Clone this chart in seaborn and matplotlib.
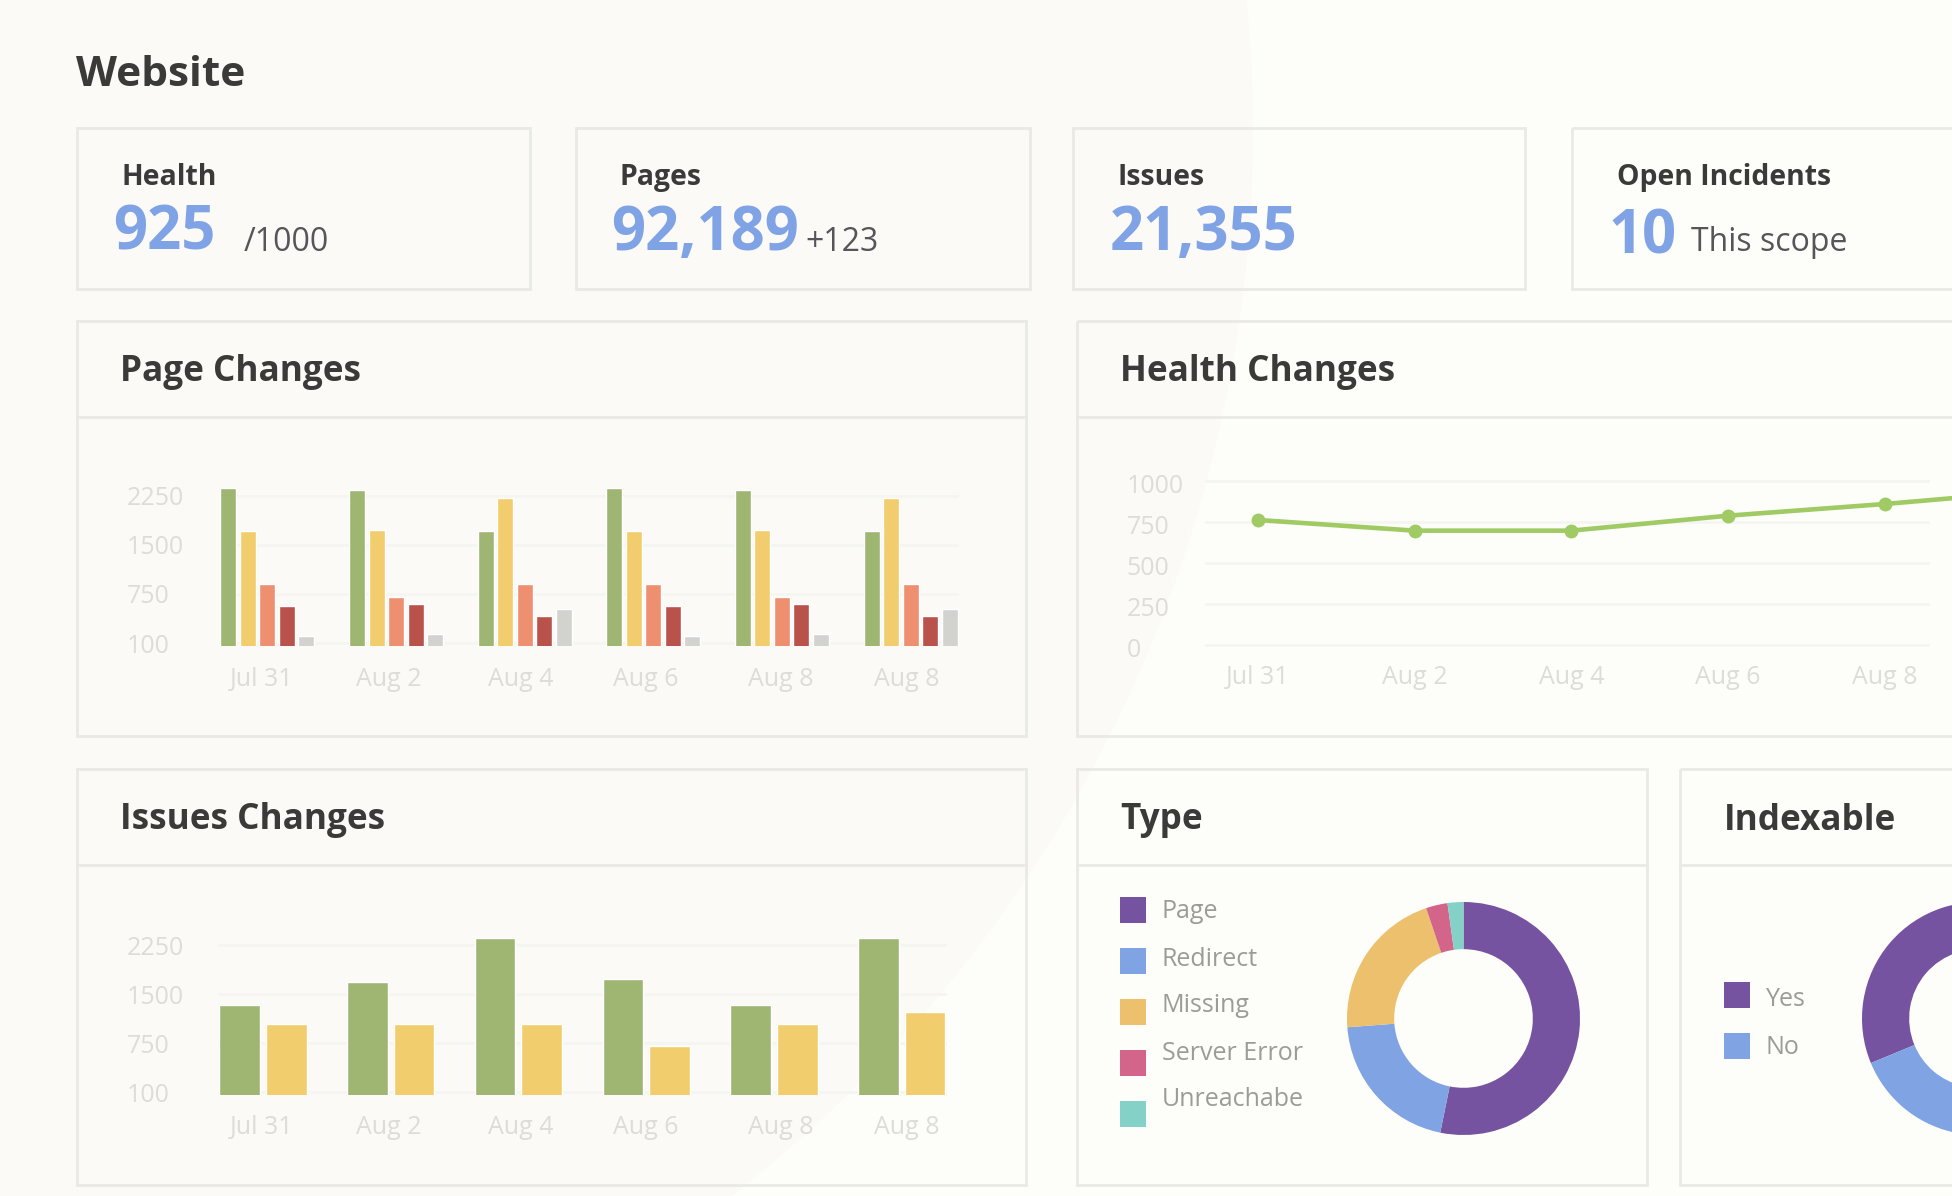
"""Website dashboard: KPI cards, bar charts, health line and two donuts."""

import matplotlib
matplotlib.use("Agg")
import matplotlib.pyplot as plt
from matplotlib.patches import Circle, Rectangle
from matplotlib.transforms import ScaledTranslation
import numpy as np
import pandas as pd
import seaborn as sns

W, H = 1952, 1196

DATES = ["Jul 31", "Aug 2", "Aug 4", "Aug 6", "Aug 8", "Aug 8"]

PAGE_GREEN = [2368, 2345, 1710, 2368, 2345, 1710]
PAGE_YELLOW = [1710, 1722, 2209, 1710, 1722, 2209]
PAGE_ORANGE = [908, 706, 908, 908, 706, 908]
PAGE_RED = [591, 614, 458, 591, 614, 458]
PAGE_GREY = [193, 215, 547, 193, 215, 547]

ISSUES_GREEN = [1336, 1688, 2358, 1739, 1336, 2358]
ISSUES_YELLOW = [1050, 1050, 1050, 718, 1050, 1225]

HEALTH = [761, 696, 696, 787, 858, 940]

TYPE_LABELS = ["Page", "Redirect", "Missing", "Server Error", "Unreachabe"]
TYPE_VALUES = [53.2, 20.6, 21.0, 3.0, 2.2]
INDEX_LABELS = ["Yes", "No"]
INDEX_VALUES = [70, 30]

BAR_TICKS = [100, 750, 1500, 2250]
HEALTH_TICKS = [0, 250, 500, 750, 1000]

GREEN, YELLOW, ORANGE, RED, GREY = "#9fb672", "#f2cd6d", "#ee8f70", "#b9524a", "#d2d2cf"
PURPLE, BLUE, GOLD, PINK, TEAL = "#7653a0", "#80a4e3", "#ecc06c", "#d3658a", "#84d1c8"
LINE_GREEN = "#a0ca63"
BG_LEFT, BG_RIGHT = "#fbfaf7", "#fdfdfa"
BORDER, GRID, TICK = "#e9e9e6", "#f5f5f1", "#dcdcd8"
DARK, MID, KPI = "#3a3a38", "#55555a", "#7fa3e4"

# the bar charts label an axis with even steps that are not even in value
SCALE_VALUES = [0, 100, 750, 1500, 2250, 4000]
SCALE_STEPS = [-0.15, 0, 1, 2, 3, 5.3]
# x of the date labels on the bar charts, in pixels
DATE_LABEL_X = [262, 389, 521, 646, 781, 907]

sns.set_theme(style="white")
plt.rcParams["font.family"] = ["Open Sans", "DejaVu Sans"]

fig = plt.figure(figsize=(W / 100, H / 100), dpi=100, facecolor=BG_RIGHT)


def px_axes(left, top, right, bottom):
    ax = fig.add_axes([left / W, 1 - bottom / H, (right - left) / W, (bottom - top) / H])
    ax.set_facecolor("none")
    return ax


# backdrop in pixel coordinates
bg = fig.add_axes([0, 0, 1, 1])
bg.set_xlim(0, W)
bg.set_ylim(H, 0)
bg.axis("off")
bg.add_patch(Circle((-97, 130), 1350, color=BG_LEFT, lw=0))


def panel(left, top, right, bottom, header=None):
    bg.add_patch(Rectangle((left, top), right - left, bottom - top,
                           fill=False, ec=BORDER, lw=2))
    if header:
        bg.plot([left, right], [header, header], color=BORDER, lw=2)


def card(left, right, title, title_x, value, value_x, value_y, note=None, note_x=0):
    panel(left, 128, right, 289)
    bg.text(title_x, 185, title, fontsize=20.4, fontweight="bold", color=DARK)
    bg.text(value_x, value_y, value, fontsize=43, fontweight="bold", color=KPI)
    if note:
        bg.text(note_x, 251, note, fontsize=23, color=MID)


def donut_legend(labels, colors, swatch_y, label_y, x):
    for label, color, sy, ly in zip(labels, colors, swatch_y, label_y):
        bg.add_patch(Rectangle((x, sy), 26, 26, color=color, lw=0))
        bg.text(x + 42, ly, label, fontsize=18, color="#9b9b97", va="center")


def style_axis(ax, ticks, ypad, xpad):
    ax.set_yticks(ticks)
    ax.set_xlabel("")
    ax.set_ylabel("")
    ax.grid(axis="y", color=GRID, lw=2)
    ax.grid(axis="x", visible=False)
    ax.set_axisbelow(True)
    sns.despine(ax=ax, left=True, bottom=True)
    ax.tick_params(axis="both", length=0, labelsize=18, labelcolor=TICK)
    ax.tick_params(axis="y", pad=ypad)
    ax.tick_params(axis="x", pad=xpad)
    for lab in ax.get_yticklabels():
        lab.set_ha("left")


def bar_chart(ax, series, colors, width, gap, center, pitch):
    rows = []
    for name, vals in series.items():
        rows += [{"date": i, "series": name, "value": v} for i, v in enumerate(vals)]
    df = pd.DataFrame(rows)
    sns.barplot(data=df, x="date", y="value", hue="series", palette=colors,
                width=width, gap=gap, saturation=1, legend=False, ax=ax)
    ax.set_xticks([(x - center) / pitch for x in DATE_LABEL_X], DATES)
    ax.set_yscale("function", functions=(
        lambda v: np.interp(v, SCALE_VALUES, SCALE_STEPS),
        lambda s: np.interp(s, SCALE_STEPS, SCALE_VALUES),
    ))


bg.text(76, 86, "Website", fontsize=30.5, fontweight="bold", color=DARK)

card(77, 530, "Health", 121, "925", 113, 250, "/1000", 244)
card(576, 1030, "Pages", 620, "92,189", 611, 250, "+123", 805)
card(1073, 1525, "Issues", 1118, "21,355", 1110, 250)
card(1572, 2040, "Open Incidents", 1617, "10", 1609, 253, "This scope", 1691)

panel(77, 321, 1026, 736, 417)
panel(1077, 321, 2040, 736, 417)
panel(77, 769, 1026, 1185, 865)
panel(1077, 769, 1647, 1185, 865)
panel(1680, 769, 2040, 1185, 865)

for x, y, title in [(120, 380.5, "Page Changes"), (1120, 380.5, "Health Changes"),
                    (120, 829.5, "Issues Changes"), (1120, 829.5, "Type"),
                    (1724, 829.5, "Indexable")]:
    bg.text(x, y, title, fontsize=25.3, fontweight="bold", color=DARK)

# Page Changes
ax = px_axes(220, 480, 959.5, 646)
bar_chart(ax, {"a": PAGE_GREEN, "b": PAGE_YELLOW, "c": PAGE_ORANGE, "d": PAGE_RED, "e": PAGE_GREY},
          [GREEN, YELLOW, ORANGE, RED, GREY], 0.758, 0.18, 267.5, 128.6)
style_axis(ax, BAR_TICKS, 67, 15)
ax.set_xlim(-0.369, 5.38)
ax.set_ylim(60, 2495)

# Issues Changes
ax = px_axes(218, 930, 947, 1094.5)
bar_chart(ax, {"a": ISSUES_GREEN, "b": ISSUES_YELLOW}, [GREEN, YELLOW], 0.73, 0.13, 263, 127.7)
style_axis(ax, BAR_TICKS, 65.5, 15)
ax.set_xlim(-0.352, 5.355)
ax.set_ylim(71, 2485)

# Health Changes, the last point runs off the right edge
ax = px_axes(1205, 470, 1930, 648)
sns.lineplot(x=range(len(HEALTH)), y=HEALTH, color=LINE_GREEN, lw=3.3, marker="o",
             markersize=10, markeredgewidth=0, ax=ax, clip_on=False)
ax.set_xticks(range(len(DATES)), DATES)
style_axis(ax, HEALTH_TICKS, 56.5, 12)
ax.set_xlim(-0.338, 4.29)
ax.set_ylim(-18, 1065)
for lab in ax.get_yticklabels():
    lab.set_transform(lab.get_transform() + ScaledTranslation(0, -2.5 / 100, fig.dpi_scale_trans))

# Type donut
ax = px_axes(1347, 902, 1580, 1135)
ax.pie(TYPE_VALUES, colors=[PURPLE, BLUE, GOLD, PINK, TEAL], startangle=90, counterclock=False,
       radius=1, wedgeprops={"width": 0.405, "linewidth": 0})
ax.set_xlim(-1, 1)
ax.set_ylim(-1, 1)
donut_legend(TYPE_LABELS, [PURPLE, BLUE, GOLD, PINK, TEAL],
             [897, 948, 999, 1050, 1101], [912, 959, 1006, 1053, 1100], 1120)

# Indexable donut, cut by the right edge
ax = px_axes(1862, 902, 2095, 1135)
ax.pie(INDEX_VALUES, colors=[PURPLE, BLUE], startangle=202.5, counterclock=False,
       radius=1, wedgeprops={"width": 0.405, "linewidth": 0})
ax.set_xlim(-1, 1)
ax.set_ylim(-1, 1)
donut_legend(INDEX_LABELS, [PURPLE, BLUE], [982, 1033], [1000, 1047], 1724)

fig.savefig("out.png", dpi=100)
